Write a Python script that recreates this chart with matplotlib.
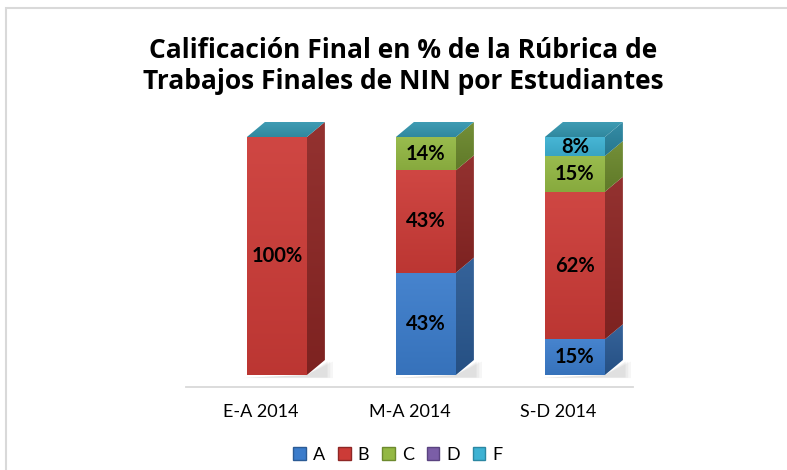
import numpy as np
import matplotlib
matplotlib.use("Agg")
import matplotlib.pyplot as plt
from matplotlib.patches import Polygon, Patch, Rectangle
from matplotlib.colors import to_rgb

plt.rcParams["font.family"] = ["Lato", "DejaVu Sans"]

# Data
categories = ["E-A 2014", "M-A 2014", "S-D 2014"]
series_names = ["A", "B", "C", "D", "F"]
grade_a = [0, 43, 15]
grade_b = [100, 43, 62]
grade_c = [0, 14, 15]
grade_d = [0, 0, 0]
grade_f = [0, 0, 8]
series_values = [grade_a, grade_b, grade_c, grade_d, grade_f]

title = "Calificación Final en % de la Rúbrica de\nTrabajos Finales de NIN por Estudiantes"

# Styling
front_colors = ["#3B7CCB", "#CC3B37", "#93B843", "#7B5EA7", "#3DB2D3"]
side_colors = ["#2B5B95", "#8E2725", "#6D8A2E", "#5A4380", "#2B87A2"]
top_color = "#3597B0"

W, H = 787, 470
fig = plt.figure(figsize=(W / 100, H / 100), dpi=100)
fig.patch.set_facecolor("white")

# plot area in pixels
ax_left, ax_right = 186, 633
ax_bottom_px, ax_top_px = 387, 120   # from top of image
zero_px = 375
px_per_pct = 2.38

ax = fig.add_axes([ax_left / W, (H - ax_bottom_px) / H,
                   (ax_right - ax_left) / W, (ax_bottom_px - ax_top_px) / H])
ymin = -(ax_bottom_px - zero_px) / px_per_pct
ymax = (zero_px - ax_top_px) / px_per_pct
ax.set_xlim(0.5, 3.5)
ax.set_ylim(ymin, ymax)
px_per_x = (ax_right - ax_left) / 3.0

depth_x = 18 / px_per_x
depth_y = 15 / px_per_pct
bar_w = 60 / px_per_x
shift = 0.11


def adjust(c, f):
    c = np.array(to_rgb(c))
    if f >= 0:
        return tuple(c + (1 - c) * f)
    return tuple(c * (1 + f))


def shaded_face(verts, c_top, c_bot, z):
    poly = Polygon(verts, closed=True, facecolor="none", edgecolor="none", zorder=z)
    ax.add_patch(poly)
    xs = [v[0] for v in verts]
    ys = [v[1] for v in verts]
    g = np.linspace(0, 1, 64)[:, None, None]
    ct = np.array(to_rgb(c_top))[None, None, :]
    cb = np.array(to_rgb(c_bot))[None, None, :]
    img = ct * (1 - g) + cb * g
    im = ax.imshow(img, extent=(min(xs), max(xs), min(ys), max(ys)),
                   origin="upper", aspect="auto", interpolation="bilinear", zorder=z)
    im.set_clip_path(poly)


for i, cat in enumerate(categories):
    xc = i + 1 + shift
    x0, x1 = xc - bar_w / 2, xc + bar_w / 2

    # soft floor shadow behind the bar's base
    for k, a in enumerate([0.07, 0.08, 0.10]):
        grow = (3 - k) * 0.012
        ax.add_patch(Polygon([(x0 - grow, -1.0 - grow * 8), (x1 + depth_x + grow * 1.5, -1.0 - grow * 8),
                              (x1 + depth_x + grow * 1.5, depth_y * 0.9), (x1, 0)],
                             closed=True, facecolor="#808080", edgecolor="none",
                             alpha=a, zorder=1))

    bottom = 0.0
    for s, vals in enumerate(series_values):
        v = vals[i]
        if v <= 0:
            continue
        y0, y1 = bottom, bottom + v
        front = [(x0, y0), (x1, y0), (x1, y1), (x0, y1)]
        side = [(x1, y0), (x1 + depth_x, y0 + depth_y),
                (x1 + depth_x, y1 + depth_y), (x1, y1)]
        shaded_face(front, adjust(front_colors[s], 0.06), adjust(front_colors[s], -0.08), 2)
        shaded_face(side, adjust(side_colors[s], 0.05), adjust(side_colors[s], -0.12), 2)
        ax.text(xc, (y0 + y1) / 2, f"{v}%", ha="center", va="center",
                fontsize=14.5, fontweight="bold", color="black", zorder=5)
        bottom = y1
    top = [(x0, bottom), (x1, bottom), (x1 + depth_x, bottom + depth_y),
           (x0 + depth_x, bottom + depth_y)]
    shaded_face(top, adjust(top_color, 0.05), adjust(top_color, -0.1), 3)

ax.set_xlim(0.5, 3.5)
ax.set_ylim(ymin, ymax)
ax.set_xticks([1, 2, 3])
ax.set_xticklabels(categories, fontsize=13)
ax.tick_params(axis="x", length=0, pad=12)
ax.set_yticks([])
for sp in ["top", "left", "right"]:
    ax.spines[sp].set_visible(False)
ax.spines["bottom"].set_color("#d9d9d9")
ax.spines["bottom"].set_linewidth(1.3)
ax.set_facecolor("none")

fig.text(403 / W, (H - 66) / H, title, ha="center", va="center",
         fontsize=19, fontweight="bold", linespacing=1.2,
         family=["Open Sans", "DejaVu Sans"])

handles = [Patch(facecolor=front_colors[k], edgecolor=side_colors[k], linewidth=1.0)
           for k in range(len(series_names))]
fig.legend(handles, series_names, loc="center", bbox_to_anchor=(398 / W, 15 / H),
           ncol=5, frameon=False, fontsize=13, handlelength=0.7, handleheight=0.7,
           handletextpad=0.4, columnspacing=0.7, borderpad=0)

fig.add_artist(Rectangle((6 / W, -0.1), 1.2, (H - 8) / H + 0.1,
                         transform=fig.transFigure, fill=False,
                         edgecolor="#d9d9d9", linewidth=1.5))

fig.savefig("out.png", dpi=100)
